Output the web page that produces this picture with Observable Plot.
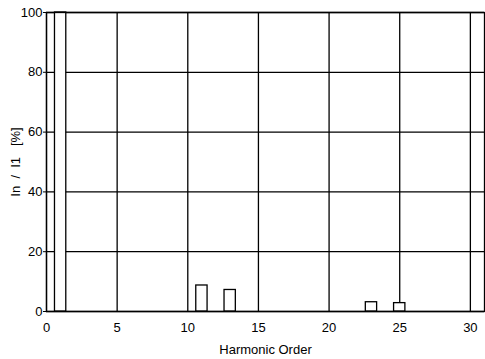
<!DOCTYPE html>
<html><head><meta charset="utf-8">
<script src="https://cdn.jsdelivr.net/npm/d3@7"></script>
<script src="https://cdn.jsdelivr.net/npm/@observablehq/plot@0.6"></script>
<style>body{margin:0;background:#fff}</style>
</head><body><div id="chart"></div>
<script>
const harmonics = [1, 11, 13, 23, 25];
const percents = [100, 8.7, 7.2, 3.1, 2.8];
const xTicks = [0, 5, 10, 15, 20, 25, 30];
const yTicks = [0, 20, 40, 60, 80, 100];
const barHalfWidth = 0.4;

const data = harmonics.map((h, i) => ({h, p: percents[i]}));

const chart = Plot.plot({
  width: 485, height: 359,
  marginLeft: 46, marginRight: 1, marginTop: 12, marginBottom: 48,
  style: {fontFamily: "Liberation Sans, Arial, sans-serif", fontSize: "12px", color: "#000", background: "#fff"},
  x: {domain: [0, 31], ticks: xTicks},
  y: {domain: [0, 100], ticks: yTicks},
  marks: [
    Plot.ruleX(xTicks, {stroke: "#000", strokeWidth: 1.3}),
    Plot.ruleY(yTicks, {stroke: "#000", strokeWidth: 1.3}),
    Plot.rectY(data, {x1: d => d.h - barHalfWidth, x2: d => d.h + barHalfWidth, y1: 0, y2: "p", fill: "#fff", stroke: "#000", strokeWidth: 1.3}),
    Plot.frame({stroke: "#000", strokeWidth: 1.3}),
    Plot.axisX({ticks: xTicks, tickSize: 0, tickPadding: 11, fontSize: 13, label: "Harmonic Order", labelAnchor: "center", labelArrow: "none", labelOffset: 42}),
    Plot.axisY({ticks: yTicks, tickSize: 3, tickPadding: 1, fontSize: 13, label: "In  /  I1   [%]", labelAnchor: "center", labelArrow: "none", labelOffset: 36})
  ]
});
document.getElementById("chart").appendChild(chart);
</script>
</body></html>
